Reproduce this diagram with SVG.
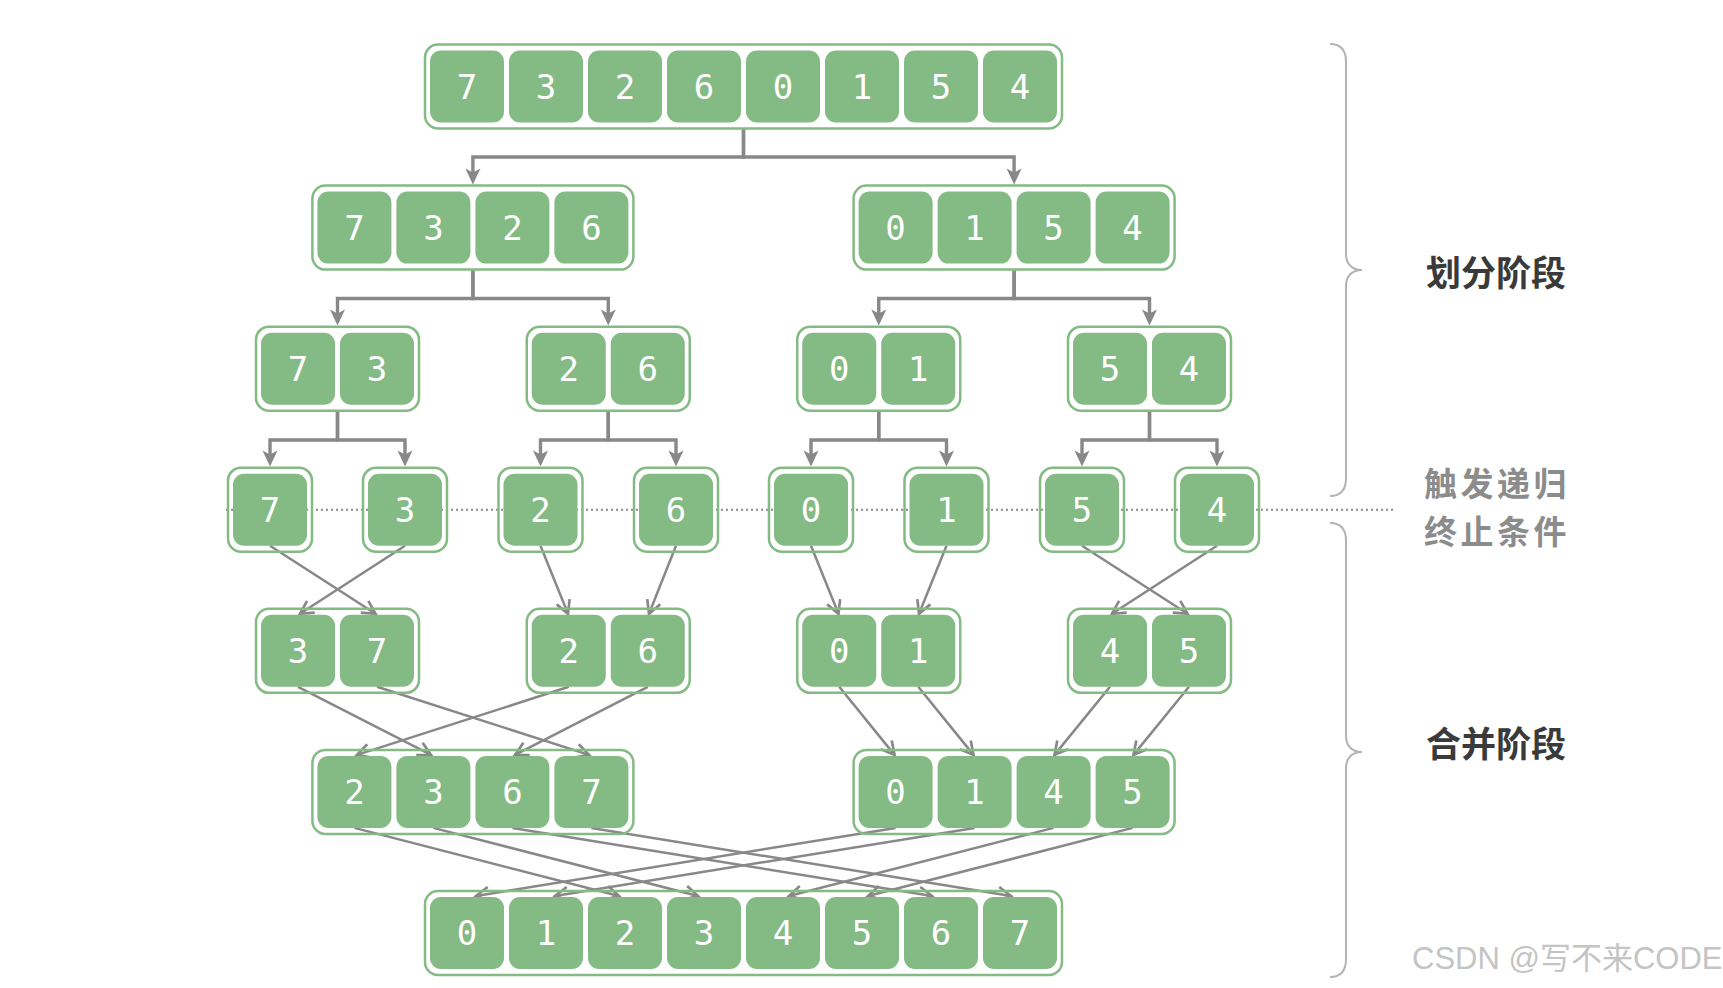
<svg xmlns="http://www.w3.org/2000/svg" width="1723" height="988" viewBox="0 0 1723 988">
<style>
.box{fill:none;stroke:#84BA84;stroke-width:2.5}
.cell{fill:#84BA84}
.num{font-family:"DejaVu Sans Mono","Liberation Mono",monospace;font-size:34px;fill:#ffffff;text-anchor:middle}
.split{fill:none;stroke:#888888;stroke-width:3.4;marker-end:url(#ah)}
.merge{fill:none;stroke:#888888;stroke-width:2.5;marker-end:url(#mh)}
.dots{fill:none;stroke:#8a8a8a;stroke-width:2;stroke-dasharray:2 3}
.brace{fill:none;stroke:#b3b3b3;stroke-width:2}
.stage{font-family:"Noto Sans CJK SC","Noto Sans",sans-serif;font-size:35px;font-weight:700;fill:#3a3a3a}
.cond{font-family:"Noto Sans CJK SC","Noto Sans",sans-serif;font-size:33px;letter-spacing:3.5px;font-weight:700;fill:#8c8c8c}
.wm{font-family:"Liberation Sans","Noto Sans CJK SC",sans-serif;font-size:31px;fill:#c4c4c4}
</style>
<defs>
<marker id="ah" markerUnits="userSpaceOnUse" markerWidth="30" markerHeight="30" viewBox="-15 -15 30 30" refX="0" refY="0" orient="auto" overflow="visible">
<path d="M-12,-7.5 L4,0 L-12,7.5 L-8,0 Z" fill="#888888"/>
</marker>
<marker id="mh" markerUnits="userSpaceOnUse" markerWidth="30" markerHeight="30" viewBox="-15 -15 30 30" refX="0" refY="0" orient="auto" overflow="visible">
<path d="M-13,-7 L0,0 L-13,7" fill="none" stroke="#888888" stroke-width="2.7"/>
</marker>
<g id="c1"><rect class="cell" x="-37" y="-36" width="74" height="72" rx="11"/></g>
</defs>

<line class="dots" x1="226" y1="509.7" x2="1395" y2="509.7"/>

<g id="connectors">
<!-- split phase -->
<path class="split" d="M743.5,129 V157 H472.9 V180.5"/>
<path class="split" d="M743.5,129 V157 H1014.1 V180.5"/>
<path class="split" d="M472.9,270.5 V298.5 H337.5 V321.5"/>
<path class="split" d="M472.9,270.5 V298.5 H608.25 V321.5"/>
<path class="split" d="M1014.1,270.5 V298.5 H878.75 V321.5"/>
<path class="split" d="M1014.1,270.5 V298.5 H1149.5 V321.5"/>
<path class="split" d="M337.5,411.5 V440 H270 V462.5"/>
<path class="split" d="M337.5,411.5 V440 H405 V462.5"/>
<path class="split" d="M608.25,411.5 V440 H540.5 V462.5"/>
<path class="split" d="M608.25,411.5 V440 H676 V462.5"/>
<path class="split" d="M878.75,411.5 V440 H811 V462.5"/>
<path class="split" d="M878.75,411.5 V440 H946.5 V462.5"/>
<path class="split" d="M1149.5,411.5 V440 H1082 V462.5"/>
<path class="split" d="M1149.5,411.5 V440 H1217 V462.5"/>
<!-- merge phase: leaves to pairs -->
<path class="merge" d="M270,545.7 L375.5,613.8"/>
<path class="merge" d="M405,545.7 L300,613.8"/>
<path class="merge" d="M540.5,545.7 L568,613.8"/>
<path class="merge" d="M676,545.7 L649,613.8"/>
<path class="merge" d="M811,545.7 L838.5,613.8"/>
<path class="merge" d="M946.5,545.7 L919,613.8"/>
<path class="merge" d="M1082,545.7 L1187.5,613.8"/>
<path class="merge" d="M1217,545.7 L1112,613.8"/>
<!-- pairs to quads -->
<path class="merge" d="M298,686.8 L431,754.9"/>
<path class="merge" d="M377,686.8 L589,754.9"/>
<path class="merge" d="M568.75,686.8 L357,754.9"/>
<path class="merge" d="M647.75,686.8 L515,754.9"/>
<path class="merge" d="M839.25,686.8 L894.5,754.9"/>
<path class="merge" d="M918.25,686.8 L973.5,754.9"/>
<path class="merge" d="M1110,686.8 L1054.5,754.9"/>
<path class="merge" d="M1189,686.8 L1133.5,754.9"/>
<!-- quads to result -->
<path class="merge" d="M354.4,827.9 L619,896"/>
<path class="merge" d="M433.4,827.9 L698,896"/>
<path class="merge" d="M512.4,827.9 L932,896"/>
<path class="merge" d="M591.4,827.9 L1011,896"/>
<path class="merge" d="M895.6,827.9 L476,896"/>
<path class="merge" d="M974.6,827.9 L555,896"/>
<path class="merge" d="M1053.6,827.9 L789,896"/>
<path class="merge" d="M1132.6,827.9 L868,896"/>
</g>

<!-- Row 1 -->
<g id="node-r1" transform="translate(743.5,86.5)">
<rect class="box" x="-318.5" y="-42" width="637" height="84" rx="13"/>
<use href="#c1" x="-276.5"/><use href="#c1" x="-197.5"/><use href="#c1" x="-118.5"/><use href="#c1" x="-39.5"/><use href="#c1" x="39.5"/><use href="#c1" x="118.5"/><use href="#c1" x="197.5"/><use href="#c1" x="276.5"/>
<text class="num" x="-276.5" y="12">7</text><text class="num" x="-197.5" y="12">3</text><text class="num" x="-118.5" y="12">2</text><text class="num" x="-39.5" y="12">6</text><text class="num" x="39.5" y="12">0</text><text class="num" x="118.5" y="12">1</text><text class="num" x="197.5" y="12">5</text><text class="num" x="276.5" y="12">4</text>
</g>

<!-- Row 2 -->
<g id="node-r2a" transform="translate(472.9,227.6)">
<rect class="box" x="-160.5" y="-42" width="321" height="84" rx="13"/>
<use href="#c1" x="-118.5"/><use href="#c1" x="-39.5"/><use href="#c1" x="39.5"/><use href="#c1" x="118.5"/>
<text class="num" x="-118.5" y="12">7</text><text class="num" x="-39.5" y="12">3</text><text class="num" x="39.5" y="12">2</text><text class="num" x="118.5" y="12">6</text>
</g>
<g id="node-r2b" transform="translate(1014.1,227.6)">
<rect class="box" x="-160.5" y="-42" width="321" height="84" rx="13"/>
<use href="#c1" x="-118.5"/><use href="#c1" x="-39.5"/><use href="#c1" x="39.5"/><use href="#c1" x="118.5"/>
<text class="num" x="-118.5" y="12">0</text><text class="num" x="-39.5" y="12">1</text><text class="num" x="39.5" y="12">5</text><text class="num" x="118.5" y="12">4</text>
</g>

<!-- Row 3 -->
<g id="node-r3a" transform="translate(337.5,368.7)">
<rect class="box" x="-81.5" y="-42" width="163" height="84" rx="13"/>
<use href="#c1" x="-39.5"/><use href="#c1" x="39.5"/>
<text class="num" x="-39.5" y="12">7</text><text class="num" x="39.5" y="12">3</text>
</g>
<g id="node-r3b" transform="translate(608.25,368.7)">
<rect class="box" x="-81.5" y="-42" width="163" height="84" rx="13"/>
<use href="#c1" x="-39.5"/><use href="#c1" x="39.5"/>
<text class="num" x="-39.5" y="12">2</text><text class="num" x="39.5" y="12">6</text>
</g>
<g id="node-r3c" transform="translate(878.75,368.7)">
<rect class="box" x="-81.5" y="-42" width="163" height="84" rx="13"/>
<use href="#c1" x="-39.5"/><use href="#c1" x="39.5"/>
<text class="num" x="-39.5" y="12">0</text><text class="num" x="39.5" y="12">1</text>
</g>
<g id="node-r3d" transform="translate(1149.5,368.7)">
<rect class="box" x="-81.5" y="-42" width="163" height="84" rx="13"/>
<use href="#c1" x="-39.5"/><use href="#c1" x="39.5"/>
<text class="num" x="-39.5" y="12">5</text><text class="num" x="39.5" y="12">4</text>
</g>

<!-- Row 4 leaves -->
<g id="node-r4a" transform="translate(270,509.7)"><rect class="box" x="-42" y="-42" width="84" height="84" rx="13"/><use href="#c1"/><text class="num" x="0" y="12">7</text></g>
<g id="node-r4b" transform="translate(405,509.7)"><rect class="box" x="-42" y="-42" width="84" height="84" rx="13"/><use href="#c1"/><text class="num" x="0" y="12">3</text></g>
<g id="node-r4c" transform="translate(540.5,509.7)"><rect class="box" x="-42" y="-42" width="84" height="84" rx="13"/><use href="#c1"/><text class="num" x="0" y="12">2</text></g>
<g id="node-r4d" transform="translate(676,509.7)"><rect class="box" x="-42" y="-42" width="84" height="84" rx="13"/><use href="#c1"/><text class="num" x="0" y="12">6</text></g>
<g id="node-r4e" transform="translate(811,509.7)"><rect class="box" x="-42" y="-42" width="84" height="84" rx="13"/><use href="#c1"/><text class="num" x="0" y="12">0</text></g>
<g id="node-r4f" transform="translate(946.5,509.7)"><rect class="box" x="-42" y="-42" width="84" height="84" rx="13"/><use href="#c1"/><text class="num" x="0" y="12">1</text></g>
<g id="node-r4g" transform="translate(1082,509.7)"><rect class="box" x="-42" y="-42" width="84" height="84" rx="13"/><use href="#c1"/><text class="num" x="0" y="12">5</text></g>
<g id="node-r4h" transform="translate(1217,509.7)"><rect class="box" x="-42" y="-42" width="84" height="84" rx="13"/><use href="#c1"/><text class="num" x="0" y="12">4</text></g>

<!-- Row 5 -->
<g id="node-r5a" transform="translate(337.5,650.8)">
<rect class="box" x="-81.5" y="-42" width="163" height="84" rx="13"/>
<use href="#c1" x="-39.5"/><use href="#c1" x="39.5"/>
<text class="num" x="-39.5" y="12">3</text><text class="num" x="39.5" y="12">7</text>
</g>
<g id="node-r5b" transform="translate(608.25,650.8)">
<rect class="box" x="-81.5" y="-42" width="163" height="84" rx="13"/>
<use href="#c1" x="-39.5"/><use href="#c1" x="39.5"/>
<text class="num" x="-39.5" y="12">2</text><text class="num" x="39.5" y="12">6</text>
</g>
<g id="node-r5c" transform="translate(878.75,650.8)">
<rect class="box" x="-81.5" y="-42" width="163" height="84" rx="13"/>
<use href="#c1" x="-39.5"/><use href="#c1" x="39.5"/>
<text class="num" x="-39.5" y="12">0</text><text class="num" x="39.5" y="12">1</text>
</g>
<g id="node-r5d" transform="translate(1149.5,650.8)">
<rect class="box" x="-81.5" y="-42" width="163" height="84" rx="13"/>
<use href="#c1" x="-39.5"/><use href="#c1" x="39.5"/>
<text class="num" x="-39.5" y="12">4</text><text class="num" x="39.5" y="12">5</text>
</g>

<!-- Row 6 -->
<g id="node-r6a" transform="translate(472.9,791.9)">
<rect class="box" x="-160.5" y="-42" width="321" height="84" rx="13"/>
<use href="#c1" x="-118.5"/><use href="#c1" x="-39.5"/><use href="#c1" x="39.5"/><use href="#c1" x="118.5"/>
<text class="num" x="-118.5" y="12">2</text><text class="num" x="-39.5" y="12">3</text><text class="num" x="39.5" y="12">6</text><text class="num" x="118.5" y="12">7</text>
</g>
<g id="node-r6b" transform="translate(1014.1,791.9)">
<rect class="box" x="-160.5" y="-42" width="321" height="84" rx="13"/>
<use href="#c1" x="-118.5"/><use href="#c1" x="-39.5"/><use href="#c1" x="39.5"/><use href="#c1" x="118.5"/>
<text class="num" x="-118.5" y="12">0</text><text class="num" x="-39.5" y="12">1</text><text class="num" x="39.5" y="12">4</text><text class="num" x="118.5" y="12">5</text>
</g>

<!-- Row 7 -->
<g id="node-r7" transform="translate(743.5,933)">
<rect class="box" x="-318.5" y="-42" width="637" height="84" rx="13"/>
<use href="#c1" x="-276.5"/><use href="#c1" x="-197.5"/><use href="#c1" x="-118.5"/><use href="#c1" x="-39.5"/><use href="#c1" x="39.5"/><use href="#c1" x="118.5"/><use href="#c1" x="197.5"/><use href="#c1" x="276.5"/>
<text class="num" x="-276.5" y="12">0</text><text class="num" x="-197.5" y="12">1</text><text class="num" x="-118.5" y="12">2</text><text class="num" x="-39.5" y="12">3</text><text class="num" x="39.5" y="12">4</text><text class="num" x="118.5" y="12">5</text><text class="num" x="197.5" y="12">6</text><text class="num" x="276.5" y="12">7</text>
</g>

<!-- Braces and labels -->
<g id="brace-split">
<path class="brace" d="M1330,44 C1340,44 1346,50 1346,62 L1346,254 C1346,264 1352,270 1362,270 C1352,270 1346,276 1346,286 L1346,478 C1346,490 1340,496 1330,496"/>
<text class="stage" x="1426" y="286">划分阶段</text>
</g>
<g id="label-cond">
<text class="cond" x="1424" y="496">触发递归</text>
<text class="cond" x="1424" y="544">终止条件</text>
</g>
<g id="brace-merge">
<path class="brace" d="M1330,523 C1340,523 1346,529 1346,541 L1346,736 C1346,746 1352,752 1362,752 C1352,752 1346,758 1346,768 L1346,959 C1346,971 1340,977 1330,977"/>
<text class="stage" x="1426" y="757">合并阶段</text>
</g>
<text class="wm" x="1412" y="969">CSDN @写不来CODE</text>
</svg>
